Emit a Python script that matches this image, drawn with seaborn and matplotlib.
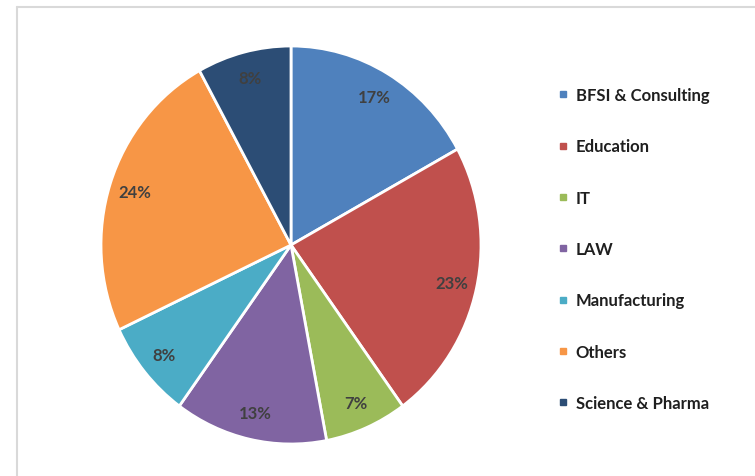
import matplotlib
matplotlib.use("Agg")
import matplotlib.pyplot as plt
import seaborn as sns
from matplotlib.lines import Line2D

# data
sectors = ["BFSI & Consulting", "Education", "IT", "LAW",
           "Manufacturing", "Others", "Science & Pharma"]
shares = [17, 23, 7, 13, 8, 24, 8]
colors = ["#4F81BD", "#C0504D", "#9BBB59", "#8064A2",
          "#4BACC6", "#F79646", "#2C4D75"]

sns.set_theme(style="white")
plt.rcParams["font.family"] = ["Lato", "DejaVu Sans"]

fig = plt.figure(figsize=(7.55, 4.77), dpi=100)
W, H = 755, 477
ax = fig.add_axes([101 / W, (H - 445) / H, 380 / W, 398 / H])

ax.pie(shares, colors=colors, startangle=90, counterclock=False,
       autopct="%d%%", pctdistance=0.865,
       wedgeprops=dict(edgecolor="white", linewidth=2),
       textprops=dict(color="#404040", fontsize=12, fontweight="bold"))
ax.set_aspect("auto")
ax.set_xlim(-1.0, 1.0)
ax.set_ylim(-1.0, 1.0)

# legend
handles = [Line2D([0], [0], marker="s", linestyle="", markersize=5,
                  markerfacecolor=c, markeredgecolor=c) for c in colors]
leg = fig.legend(handles, sectors, loc="upper left",
                 bbox_to_anchor=(543 / W, 1 - 73 / H), frameon=False,
                 labelspacing=2.12, handlelength=0.6, handletextpad=0.45,
                 prop=dict(size=12, weight="bold"))
for t in leg.get_texts():
    t.set_color("#1f1f1f")

# chart border (top and left visible)
fig.add_artist(Line2D([16.5 / W, 16.5 / W], [0, 1 - 8 / H], transform=fig.transFigure,
                      color="#d9d9d9", linewidth=1.5))
fig.add_artist(Line2D([16.5 / W, 1], [1 - 8 / H, 1 - 8 / H], transform=fig.transFigure,
                      color="#d9d9d9", linewidth=1.5))

fig.savefig("out.png", dpi=100)
